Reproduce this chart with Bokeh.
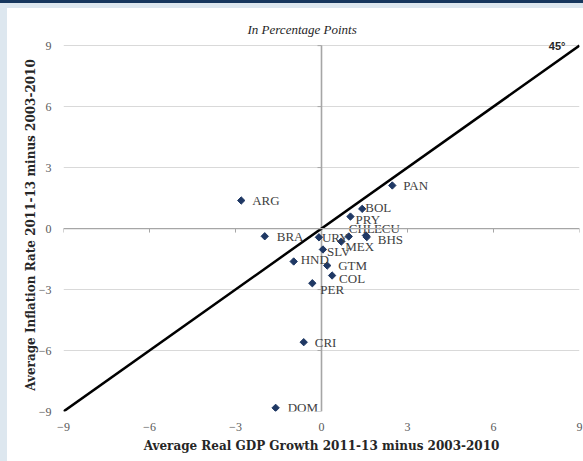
import math
from bokeh.plotting import figure
from bokeh.models import Range1d, FixedTicker, Span, ColumnDataSource, GlobalInlineStyleSheet
from bokeh.core.properties import value
from bokeh.embed import file_html
from bokeh.resources import INLINE

# ---- data ----
countries = ["PAN", "ARG", "BOL", "PRY", "CHL", "ECU", "BHS", "BRA", "URY",
             "MEX", "SLV", "HND", "GTM", "COL", "PER", "CRI", "DOM"]
gdp_growth_diff = [2.47, -2.80, 1.42, 1.01, 0.95, 1.55, 1.58, -1.98, -0.09,
                   0.69, 0.05, -0.97, 0.20, 0.37, -0.32, -0.62, -1.60]
inflation_diff = [2.12, 1.38, 0.97, 0.59, -0.39, -0.34, -0.42, -0.38, -0.43,
                  -0.64, -1.03, -1.62, -1.82, -2.31, -2.69, -5.59, -8.82]
tick_values = [-9, -6, -3, 0, 3, 6, 9]
title_text = "In Percentage Points"
x_title = "Average Real GDP Growth 2011-13 minus 2003-2010"
y_title = "Average Inflation Rate 2011-13 minus 2003-2010"
line45_text = "45°"

# label placement (pixels, right / down) - style only
label_dx = [11, 11, 3, 5, 0, 8, 11, 12, 3, 4, 4, 7, 11, 7, 8, 11, 12]
label_dy = [0, 0, -1.5, 3, -8, -7, 2, 0, 0, 5, 2, -2, 0, 3, 6, 0, 0]

W, H = 576, 453
ML, MR, MT, MB = 56, 4, 30, 50
Y_PAD = 0.35          # small headroom above the top gridline (style)
SERIF = "Liberation Serif"
ZERO_COLOR = "#a6a6a6"

y_lo, y_hi = tick_values[0], tick_values[-1] + Y_PAD
p = figure(width=W, height=H, x_range=Range1d(tick_values[0], tick_values[-1]),
           y_range=Range1d(y_lo, y_hi),
           output_backend="svg", toolbar_location=None,
           min_border_left=ML, min_border_right=MR, min_border_top=MT, min_border_bottom=MB)
p.outline_line_color = None
p.background_fill_color = "white"
p.border_fill_color = "white"

p.stylesheets = [GlobalInlineStyleSheet(css=(
    "html{background:"
    "linear-gradient(#17375e,#17375e) 0 0/100% 3px no-repeat,"
    "linear-gradient(#dde7ef,#dde7ef) 0 3px/100% 5px no-repeat,"
    "linear-gradient(#dde7ef,#dde7ef) 0 0/7px 100% no-repeat,"
    "#ffffff !important;}"
    "body{background:transparent !important;padding:8px 0 0 7px !important;}"))]

# title
p.title.text = title_text
p.title.align = "left"
p.title.offset = 184
p.title.text_font = SERIF
p.title.text_font_style = "italic"
p.title.text_font_size = "13px"
p.title.text_color = "#262626"
p.title.standoff = 4

# axes
for ax in (p.xaxis[0], p.yaxis[0]):
    ax.ticker = FixedTicker(ticks=tick_values)
    ax.axis_line_color = None
    ax.major_tick_line_color = None
    ax.minor_tick_line_color = None
    ax.major_tick_out = 0
    ax.major_tick_in = 0
    ax.minor_tick_out = 0
    ax.minor_tick_in = 0
    ax.major_label_text_font = SERIF
    ax.major_label_text_font_size = "12px"
    ax.major_label_text_color = "#595959"
    ax.axis_label_text_font = "DejaVu Serif"
    ax.axis_label_text_font_style = "bold"
    ax.axis_label_text_font_size = "12px"
    ax.axis_label_text_color = "#262626"
p.xaxis.axis_label = x_title
p.yaxis.axis_label = y_title
p.xaxis.major_label_standoff = 11
p.xaxis.axis_label_standoff = 5
p.yaxis.major_label_standoff = 12
p.yaxis.axis_label_standoff = -2

p.xgrid.visible = False
p.ygrid.ticker = FixedTicker(ticks=tick_values)
p.ygrid.grid_line_color = "#d9d9d9"
p.ygrid.grid_line_width = 1

# zero axes
p.add_layout(Span(location=0, dimension="width", line_color=ZERO_COLOR, line_width=1.3))
p.segment(x0=[0], x1=[0], y0=[tick_values[0]], y1=[tick_values[-1]],
          line_color=ZERO_COLOR, line_width=1.6)

# small tick marks on the zero axes
frame_w = W - ML - MR
frame_h = H - MT - MB
tlx = 4.0 * (tick_values[-1] - tick_values[0]) / frame_w
tly = 4.0 * (y_hi - y_lo) / frame_h
tk = list(tick_values)
p.segment(x0=tk, x1=tk, y0=[0] * len(tk), y1=[-tly] * len(tk), line_color=ZERO_COLOR, line_width=1)
p.segment(x0=[0] * len(tk), x1=[-tlx] * len(tk), y0=tk, y1=tk, line_color=ZERO_COLOR, line_width=1)

# 45 degree line
p.line([tick_values[0], tick_values[-1]], [tick_values[0], tick_values[-1]],
       line_color="black", line_width=2.5)
p.text(x=[tick_values[-1]], y=[tick_values[-1]], text=[line45_text], x_offset=-14, y_offset=0,
       text_align="right", text_baseline="middle", text_font=value("Liberation Sans"),
       text_font_style="bold", text_font_size="11px", text_color="#262626")

src = ColumnDataSource(dict(x=gdp_growth_diff, y=inflation_diff, name=countries,
                            dx=label_dx, dy=label_dy))
p.scatter("x", "y", source=src, marker="square", size=5.2, angle=math.pi / 4,
          color="#1f3864")
p.text("x", "y", text="name", source=src, x_offset="dx", y_offset="dy",
       text_align="left", text_baseline="middle", text_font=value(SERIF),
       text_font_size="13px", text_color="#404040")

open("out.html", "w").write(file_html(p, INLINE))
